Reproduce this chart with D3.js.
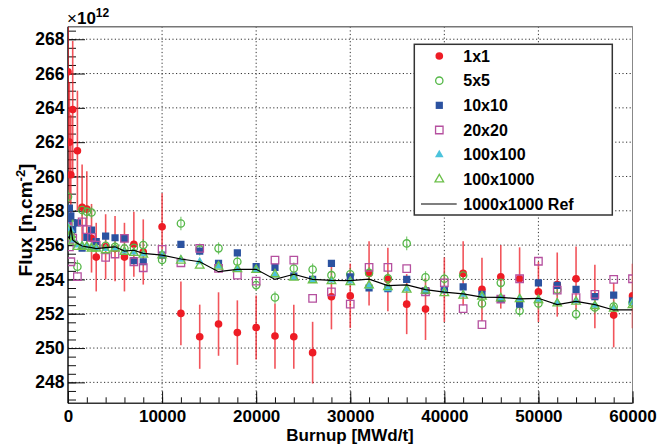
<!DOCTYPE html>
<html>
<head>
<meta charset="utf-8">
<script src="https://cdn.jsdelivr.net/npm/d3@7/dist/d3.min.js"></script>
<style>
body { margin: 0; background: #fff; }
text { font-family: "Liberation Sans", Arial, Helvetica, sans-serif; font-weight: bold; fill: #000; }
</style>
</head>
<body>
<svg id="chart" width="669" height="444"></svg>
<script>
// burnup steps [MWd/t]
var burnup = [0, 150, 300, 500, 1000, 1500, 2000, 2500, 3000, 4000, 5000, 6000, 7000, 8000,
	10000, 12000, 14000, 16000, 18000, 20000, 22000, 24000, 26000, 28000, 30000,
	32000, 34000, 36000, 38000, 40000, 42000, 44000, 46000, 48000, 50000, 52000, 54000, 56000, 58000, 60000];

// flux values, units of 1e12 n.cm-2
var flux1x1 = [266.1, 262.0, 260.1, 263.9, 261.5, 258.2, 258.1, 256.4, 255.3, 255.9, 255.8, 255.3, 256.05, 255.6,
	257.07, 252.02, 250.66, 251.4, 250.9, 251.2, 250.7, 250.66, 249.73, 252.99, 253.04,
	254.35, 254.0, 252.56, 252.27, 253.4, 254.35, 253.42, 254.15, 254.04, 253.27, 253.7, 254.04, 253.0, 251.92, 253.04];
var err1x1 = [4.5, 3.5, 3.5, 4.0, 3.5, 2.5, 2.2, 2.0, 2.0, 1.9, 1.9, 2.0, 1.9, 1.9,
	1.95, 1.86, 1.87, 1.85, 1.88, 1.86, 1.9, 1.87, 1.8, 1.9, 1.88,
	1.87, 1.85, 1.75, 1.8, 1.88, 1.87, 1.85, 1.85, 1.83, 1.75, 1.87, 1.88, 1.85, 1.88, 1.88];
var flux5x5 = [258.82, 256.5, 256.7, 257.2, 254.74, 258.05, 257.95, 257.9, 255.9, 255.96, 255.9, 255.8, 255.85, 256.0,
	255.13, 257.26, 255.75, 255.81, 255.03, 253.67, 252.95, 254.64, 254.58, 254.25, 254.3,
	254.38, 254.06, 256.1, 254.13, 254.04, 254.23, 252.6, 253.8, 252.17, 252.6, 253.4, 251.98, 252.37, 252.42, 252.65];
var err5x5 = [0.4, 0.35, 0.35, 0.35, 0.4, 0.35, 0.4, 0.35, 0.35, 0.35, 0.35, 0.35, 0.35, 0.35,
	0.35, 0.4, 0.35, 0.35, 0.35, 0.35, 0.35, 0.35, 0.35, 0.35, 0.35,
	0.35, 0.35, 0.4, 0.35, 0.35, 0.35, 0.35, 0.35, 0.35, 0.35, 0.35, 0.35, 0.35, 0.35, 0.35];
var flux10x10 = [257.46, 258.15, 257.7, 256.9, 257.3, 255.83, 256.45, 256.88, 256.2, 256.52, 256.43, 256.39, 255.09, 255.03,
	255.42, 256.04, 255.65, 254.93, 255.55, 254.74, 254.7, 254.19, 254.0, 254.93, 254.15,
	253.5, 253.46, 254.0, 253.35, 253.42, 253.56, 253.13, 252.85, 252.56, 253.8, 253.65, 253.42, 253.0, 253.08, 252.75];
var flux20x20 = [257.07, 255.9, 255.03, 256.4, 254.16, 257.36, 256.9, 256.45, 256.0, 255.28, 255.48, 256.39, 255.03, 254.68,
	255.75, 254.97, 255.81, 254.64, 254.25, 253.9, 255.13, 255.13, 252.9, 253.28, 252.56,
	254.7, 254.7, 254.63, 253.27, 253.8, 252.3, 251.37, 252.85, 254.04, 255.06, 253.38, 252.94, 253.13, 254.0, 254.04];
var flux100x100 = [257.07, 256.6, 256.9, 256.3, 256.0, 256.0, 255.95, 255.9, 255.85, 255.8, 255.85, 255.65, 255.6, 255.5,
	255.48, 255.17, 255.03, 254.78, 254.64, 254.58, 254.25, 254.12, 254.0, 253.96, 253.9,
	253.58, 253.46, 253.46, 253.38, 253.33, 253.13, 253.05, 252.94, 252.88, 252.85, 252.65, 252.75, 252.5, 252.37, 252.65];
var flux100x1000 = [256.9, 256.5, 256.6, 256.2, 255.9, 255.9, 255.9, 255.8, 255.8, 255.7, 255.8, 255.6, 255.55, 255.45,
	255.4, 255.1, 254.8, 254.75, 254.6, 254.55, 254.3, 254.1, 253.95, 253.9, 253.85,
	253.65, 253.55, 253.4, 253.35, 253.2, 253.05, 253.0, 252.9, 252.85, 252.8, 252.6, 252.7, 252.45, 252.3, 252.5];
var fluxRef = [256.5, 256.4, 257.1, 256.3, 256.1, 255.95, 255.9, 255.85, 255.8, 255.85, 255.9, 255.65, 255.7, 255.52,
	255.42, 255.19, 255.03, 254.45, 254.59, 254.59, 254.0, 254.3, 254.0, 253.95, 253.93,
	254.02, 253.64, 253.68, 253.41, 253.26, 253.16, 252.97, 252.95, 252.87, 252.9, 252.53, 252.72, 252.53, 252.22, 252.22];

var xTicks = [0, 10000, 20000, 30000, 40000, 50000, 60000];
var yTicks = [248, 250, 252, 254, 256, 258, 260, 262, 264, 266, 268];
var legendNames = ['1x1', '5x5', '10x10', '20x20', '100x100', '100x1000', '1000x1000 Ref'];

// plot frame (window.top is read only, so no "top" here)
var pL = 68, pR = 632.5, pT = 26.7, pB = 403.3;

var svg = d3.select('#chart');

var x = d3.scaleLinear().domain([0, 60000]).range([pL, pR]);
var y = d3.scaleLinear().domain([246.78, 268.73]).range([pB, pT]);

svg.append('clipPath').attr('id', 'plotclip')
	.append('rect')
	.attr('x', pL).attr('y', pT)
	.attr('width', pR - pL).attr('height', pB - pT);

// grid
var grid = svg.append('g');
grid.selectAll('.gy')
	.data(yTicks)
	.enter()
	.append('line')
	.attr('x1', pL).attr('x2', pR)
	.attr('y1', function(d){ return y(d); })
	.attr('y2', function(d){ return y(d); })
	.attr('stroke', '#333')
	.attr('stroke-width', 1)
	.attr('stroke-dasharray', '1.2,2.4');
grid.selectAll('.gx')
	.data(xTicks.slice(1))
	.enter()
	.append('line')
	.attr('y1', pT).attr('y2', pB)
	.attr('x1', function(d){ return x(d); })
	.attr('x2', function(d){ return x(d); })
	.attr('stroke', '#333')
	.attr('stroke-width', 1)
	.attr('stroke-dasharray', '1.2,2.4');

// frame top / right
svg.append('line').attr('x1', pL).attr('x2', pR).attr('y1', pT).attr('y2', pT)
	.attr('stroke', '#777').attr('stroke-width', 1.4);
svg.append('line').attr('x1', pR).attr('x2', pR).attr('y1', pT).attr('y2', pB)
	.attr('stroke', '#888').attr('stroke-width', 1);

// axes
var yMinor = d3.range(247, 268.6, 0.5);
var xMinor = d3.range(0, 60001, 2000);

svg.append('g')
	.attr('transform', 'translate(' + pL + ',0)')
	.call(d3.axisLeft(y).tickValues(yMinor).tickSizeInner(-8).tickSizeOuter(0).tickFormat(''))
	.call(function(g){ g.select('.domain').remove(); });
svg.append('g')
	.attr('transform', 'translate(0,' + pB + ')')
	.call(d3.axisBottom(x).tickValues(xMinor).tickSizeInner(-6).tickSizeOuter(0).tickFormat(''))
	.call(function(g){ g.select('.domain').remove(); });

var yAxis = svg.append('g')
	.attr('transform', 'translate(' + pL + ',0)')
	.call(d3.axisLeft(y).tickValues(yTicks).tickSizeInner(-17).tickSizeOuter(0).tickPadding(3.5).tickFormat(d3.format('d')));
yAxis.select('.domain').attr('d', 'M0,' + pT + 'V' + pB).attr('stroke', '#000').attr('stroke-width', 1.4);
yAxis.selectAll('text').style('font-size', '17.5px').style('font-family', '"Liberation Sans", Arial, sans-serif').style('font-weight', 'bold');

var xAxis = svg.append('g')
	.attr('transform', 'translate(0,' + pB + ')')
	.call(d3.axisBottom(x).tickValues(xTicks).tickSizeInner(-12).tickSizeOuter(0).tickPadding(6.5).tickFormat(d3.format('d')));
xAxis.select('.domain').attr('d', 'M' + pL + ',0H' + pR).attr('stroke', '#333').attr('stroke-width', 1.4);
xAxis.selectAll('text').style('font-size', '17px').style('font-family', '"Liberation Sans", Arial, sans-serif').style('font-weight', 'bold');

svg.selectAll('.tick line').attr('stroke', '#111');

// titles
svg.append('text')
	.attr('x', 350).attr('y', 440.5)
	.attr('text-anchor', 'middle')
	.style('font-size', '17px')
	.text('Burnup [MWd/t]');

var yt = svg.append('text')
	.attr('transform', 'translate(31.5,220) rotate(-90)')
	.attr('text-anchor', 'middle')
	.style('font-size', '19px');
yt.append('tspan').text('Flux [n.cm');
yt.append('tspan').attr('dy', -7).style('font-size', '13px').text('-2');
yt.append('tspan').attr('dy', 7).text(']');

var ex = svg.append('text')
	.attr('x', 67).attr('y', 24)
	.style('font-size', '17px');
ex.append('tspan').style('font-weight', 'normal').text('\u00d7');
ex.append('tspan').text('10');
ex.append('tspan').attr('dy', -7).style('font-size', '12px').text('12');

// data
var plot = svg.append('g').attr('clip-path', 'url(#plotclip)');

var red = '#ee1c25', green = '#55b848', blue = '#2b52a0', purple = '#b5509f', cyan = '#4cc3dc', green2 = '#6cc04a';

function errorBars(vals, errs, color, width){
	plot.append('g')
		.selectAll('line')
		.data(burnup)
		.enter()
		.append('line')
		.attr('x1', function(d){ return x(d); })
		.attr('x2', function(d){ return x(d); })
		.attr('y1', function(d, i){ return y(vals[i] + errs[i]); })
		.attr('y2', function(d, i){ return y(vals[i] - errs[i]); })
		.attr('stroke', color)
		.attr('stroke-width', width)
		.attr('opacity', 0.75);
}

function markers(vals, type, size, color, filled){
	plot.append('g')
		.selectAll('path')
		.data(burnup)
		.enter()
		.append('path')
		.attr('transform', function(d, i){ return 'translate(' + x(d) + ',' + y(vals[i]) + ')'; })
		.attr('d', d3.symbol().type(type).size(size))
		.attr('fill', filled ? color : 'none')
		.attr('stroke', filled ? 'none' : color)
		.attr('stroke-width', 1.3);
}

errorBars(flux1x1, err1x1, red, 1.6);
errorBars(flux5x5, err5x5, green, 1.2);

markers(flux1x1, d3.symbolCircle, 46, red, true);
markers(flux5x5, d3.symbolCircle, 42, green, false);
markers(flux10x10, d3.symbolSquare, 52, blue, true);
markers(flux20x20, d3.symbolSquare, 56, purple, false);
markers(flux100x100, d3.symbolTriangle, 32, cyan, true);
markers(flux100x1000, d3.symbolTriangle, 32, green2, false);

var refLine = d3.line()
	.x(function(d){ return x(d); })
	.y(function(d, i){ return y(fluxRef[i]); });
plot.append('path')
	.datum(burnup)
	.attr('d', refLine)
	.attr('fill', 'none')
	.attr('stroke', '#000')
	.attr('stroke-width', 1.2);

// legend
var lg = svg.append('g');
lg.append('rect')
	.attr('x', 414.3).attr('y', 44.3)
	.attr('width', 198).attr('height', 170.7)
	.attr('fill', '#fff')
	.attr('stroke', '#333')
	.attr('stroke-width', 1.5);

var legendSym = [
	{type: d3.symbolCircle, size: 46, color: red, filled: true},
	{type: d3.symbolCircle, size: 42, color: green, filled: false},
	{type: d3.symbolSquare, size: 52, color: blue, filled: true},
	{type: d3.symbolSquare, size: 56, color: purple, filled: false},
	{type: d3.symbolTriangle, size: 32, color: cyan, filled: true},
	{type: d3.symbolTriangle, size: 32, color: green2, filled: false}
];
var rowY = d3.scaleLinear().domain([0, 6]).range([56, 204]);

lg.selectAll('.ls')
	.data(legendSym)
	.enter()
	.append('path')
	.attr('transform', function(d, i){ return 'translate(439.3,' + rowY(i) + ')'; })
	.attr('d', function(d){ return d3.symbol().type(d.type).size(d.size)(); })
	.attr('fill', function(d){ return d.filled ? d.color : 'none'; })
	.attr('stroke', function(d){ return d.filled ? 'none' : d.color; })
	.attr('stroke-width', 1.3);

lg.append('line')
	.attr('x1', 421).attr('x2', 456.7)
	.attr('y1', rowY(6)).attr('y2', rowY(6))
	.attr('stroke', '#000').attr('stroke-width', 1.2);

lg.selectAll('.lt')
	.data(legendNames)
	.enter()
	.append('text')
	.attr('x', 463.3)
	.attr('y', function(d, i){ return rowY(i); })
	.attr('dy', '0.36em')
	.style('font-size', '16px')
	.text(function(d){ return d; });
</script>
</body>
</html>
